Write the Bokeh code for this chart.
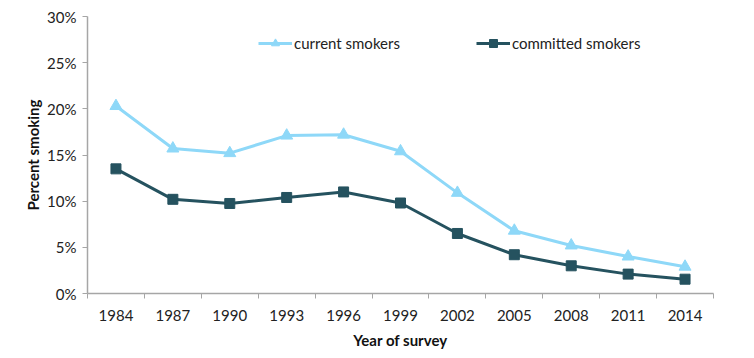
from bokeh.plotting import figure
from bokeh.models import (FixedTicker, NumeralTickFormatter, Legend, LegendItem, Range1d)
from bokeh.embed import file_html
from bokeh.resources import INLINE

years = ["1984", "1987", "1990", "1993", "1996", "1999", "2002", "2005", "2008", "2011", "2014"]
current_smokers = [20.3, 15.7, 15.2, 17.1, 17.2, 15.4, 10.9, 6.8, 5.2, 4.0, 2.9]
committed_smokers = [13.5, 10.2, 9.75, 10.4, 11.0, 9.8, 6.5, 4.2, 3.0, 2.1, 1.55]
y_ticks = [0, 0.05, 0.10, 0.15, 0.20, 0.25, 0.30]

LIGHT = "#8ED8F8"
DARK = "#25525F"
FONT = "Lato"

xs = [i + 0.5 for i in range(len(years))]
cur = [v / 100 for v in current_smokers]
com = [v / 100 for v in committed_smokers]

p = figure(width=738, height=351, output_backend="svg", toolbar_location=None,
           x_range=Range1d(0, len(years)), y_range=Range1d(0, 0.30))
p.min_border_left = 87
p.min_border_right = 25
p.min_border_top = 16
p.min_border_bottom = 58
p.outline_line_color = None
p.xgrid.grid_line_color = None
p.ygrid.grid_line_color = None

l1 = p.line(xs, cur, line_color=LIGHT, line_width=3)
s1 = p.scatter(xs, cur, marker="triangle", size=12, fill_color=LIGHT, line_color=LIGHT)
l2 = p.line(xs, com, line_color=DARK, line_width=3)
s2 = p.scatter(xs, com, marker="square", size=10, fill_color=DARK, line_color=DARK)

# x axis
xa = p.xaxis[0]
xa.ticker = FixedTicker(ticks=xs, minor_ticks=list(range(len(years) + 1)))
xa.major_label_overrides = {x: y for x, y in zip(xs, years)}
xa.major_tick_out = 0
xa.major_tick_in = 0
xa.minor_tick_out = 5
xa.minor_tick_in = 0
xa.minor_tick_line_color = "#A6A6A6"
xa.axis_line_color = "#A6A6A6"
xa.axis_line_width = 1.5
xa.major_label_standoff = 11
xa.major_label_text_font = FONT
xa.major_label_text_font_size = "15px"
xa.major_label_text_color = "#222222"
xa.axis_label = "Year of survey"
xa.axis_label_text_font = FONT
xa.axis_label_text_font_size = "15px"
xa.axis_label_text_font_style = "bold"
xa.axis_label_text_color = "#111111"
xa.axis_label_standoff = 7

# y axis
ya = p.yaxis[0]
ya.ticker = FixedTicker(ticks=y_ticks, minor_ticks=[])
ya.formatter = NumeralTickFormatter(format="0%")
ya.major_tick_out = 5
ya.major_tick_in = 0
ya.major_tick_line_color = "#A6A6A6"
ya.axis_line_color = "#A6A6A6"
ya.axis_line_width = 1.5
ya.major_label_standoff = 6
ya.major_label_text_font = FONT
ya.major_label_text_font_size = "15px"
ya.major_label_text_color = "#222222"
ya.axis_label = "Percent smoking"
ya.axis_label_text_font = FONT
ya.axis_label_text_font_size = "15px"
ya.axis_label_text_font_style = "bold"
ya.axis_label_text_color = "#111111"
ya.axis_label_standoff = 2

legend = Legend(items=[LegendItem(label="current smokers", renderers=[l1, s1]),
                       LegendItem(label="committed smokers", renderers=[l2, s2])],
                orientation="horizontal", location=(171, 240),
                padding=0, margin=0, spacing=76, glyph_width=34, glyph_height=20,
                label_standoff=2, border_line_color=None, background_fill_alpha=0,
                label_text_font=FONT, label_text_font_size="15px",
                label_text_color="#222222")
p.add_layout(legend, "center")

open("out.html", "w").write(file_html(p, INLINE))
